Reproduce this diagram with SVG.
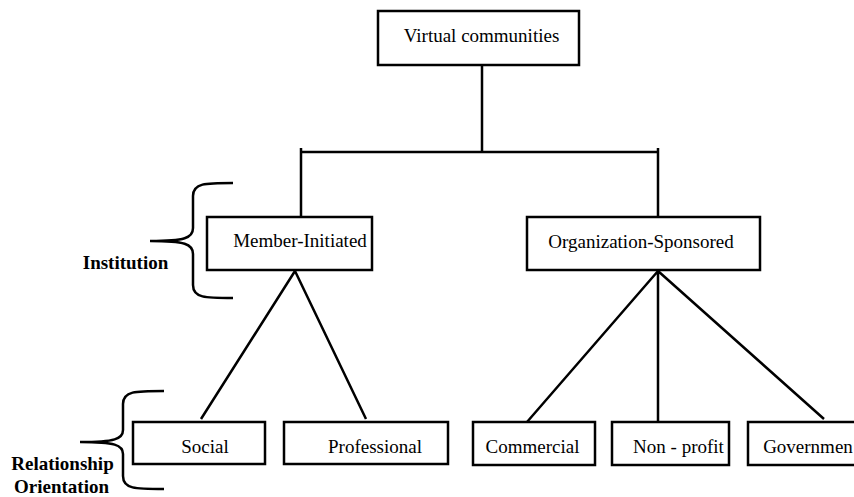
<svg xmlns="http://www.w3.org/2000/svg" width="854" height="497" viewBox="0 0 854 497">
<style>
.box{fill:#fff;stroke:#000;stroke-width:2.5}
.ln{fill:none;stroke:#000;stroke-width:2.5}
text{font-family:'Liberation Serif',serif;font-size:19px;fill:#000;text-anchor:middle}
.b{font-weight:bold}
</style>
<rect width="854" height="497" fill="#fff"/>
<g id="connectors">
<path class="ln" d="M482,65 V152 M301,152 H658 M301,148 V217 M658,148 V217"/>
<path class="ln" d="M295,271 L201,419 M295,271 L366,419"/>
<path class="ln" d="M658,271 L527,422 M658,271 V421 M658,271 L824,419"/>
</g>
<g id="brace-institution">
<path class="ln" d="M233,183 C205,183 193,183 193,196 L193,228 C193,238 185,241 150,241 C185,241 193,244 193,254 L193,285 C193,298 205,298 233,298"/>
<text class="b" x="125.5" y="269">Institution</text>
</g>
<g id="brace-relationship">
<path class="ln" d="M164,391 C135,391 123,391 123,404 L123,430 C123,439 115,442 80,442 C115,442 123,445 123,454 L123,476 C123,489 135,489 164,489"/>
<text class="b" x="62.5" y="470">Relationship</text>
<text class="b" x="61.5" y="493">Orientation</text>
</g>
<g id="virtual-communities">
<rect class="box" x="378" y="11" width="201" height="54"/>
<text x="481.5" y="41.5">Virtual communities</text>
</g>
<g id="member-initiated">
<rect class="box" x="207" y="217" width="165" height="53"/>
<text x="300" y="247">Member-Initiated</text>
</g>
<g id="organization-sponsored">
<rect class="box" x="527" y="217" width="233" height="53"/>
<text x="641" y="248">Organization-Sponsored</text>
</g>
<g id="social">
<rect class="box" x="133" y="422" width="132" height="42"/>
<text x="205" y="452.5">Social</text>
</g>
<g id="professional">
<rect class="box" x="284" y="422" width="164" height="42"/>
<text x="375" y="452.5">Professional</text>
</g>
<g id="commercial">
<rect class="box" x="473" y="422" width="122" height="43"/>
<text x="532.5" y="452.5">Commercial</text>
</g>
<g id="non-profit">
<rect class="box" x="612" y="422" width="117" height="43"/>
<text x="678.5" y="452.5">Non - profit</text>
</g>
<g id="government">
<rect class="box" x="748" y="422" width="120" height="43"/>
<text x="808" y="452.5">Governmen</text>
</g>
</svg>
